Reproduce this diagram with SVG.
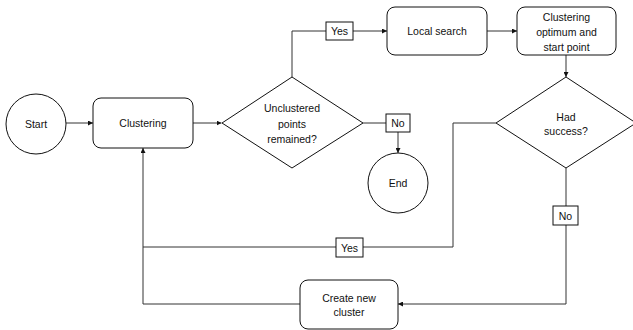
<svg xmlns="http://www.w3.org/2000/svg" width="633" height="330" viewBox="0 0 633 330">
  <style>
    .shape { fill: #fff; stroke: #111; stroke-width: 1; }
    .lbl { fill: #fff; stroke: #111; stroke-width: 1; }
    .wire { fill: none; stroke: #333; stroke-width: 1; }
    text { font-family: "Liberation Sans", Arial, sans-serif; font-size: 10.5px; fill: #111; text-anchor: middle; dominant-baseline: central; }
  </style>
  <defs>
    <marker id="arrow" viewBox="0 0 6 6" refX="6" refY="3" markerWidth="5" markerHeight="5" markerUnits="userSpaceOnUse" orient="auto">
      <path d="M0,0 L6,3 L0,6 Z" fill="#111"/>
    </marker>
  </defs>

  <!-- connectors -->
  <g id="connectors">
    <path class="wire" d="M66,123 H93" marker-end="url(#arrow)"/>
    <path class="wire" d="M193,123 H221.5" marker-end="url(#arrow)"/>
    <path class="wire" d="M292,77 V31 H326"/>
    <path class="wire" d="M353,31 H387" marker-end="url(#arrow)"/>
    <path class="wire" d="M487,31 H517" marker-end="url(#arrow)"/>
    <path class="wire" d="M566,55 V77" marker-end="url(#arrow)"/>
    <path class="wire" d="M363,123 H386"/>
    <path class="wire" d="M398,132 V153" marker-end="url(#arrow)"/>
    <path class="wire" d="M496,123 H453 V247 H363"/>
    <path class="wire" d="M336,247 H143"/>
    <path class="wire" d="M300,304 H143 V148" marker-end="url(#arrow)"/>
    <path class="wire" d="M566,168 V206"/>
    <path class="wire" d="M566,225 V304 H398" marker-end="url(#arrow)"/>
  </g>

  <!-- nodes -->
  <g id="start">
    <circle class="shape" cx="36" cy="124" r="30"/>
    <text x="36" y="124">Start</text>
  </g>
  <g id="clustering">
    <rect class="shape" x="93" y="98" width="100" height="50" rx="8"/>
    <text x="143" y="123">Clustering</text>
  </g>
  <g id="unclustered">
    <polygon class="shape" points="292,77 363,123 292,168 222,123"/>
    <text x="292" y="108">Unclustered</text>
    <text x="292" y="124">points</text>
    <text x="292" y="139">remained?</text>
  </g>
  <g id="yes-top">
    <rect class="lbl" x="326" y="22" width="27" height="18"/>
    <text x="339.5" y="31">Yes</text>
  </g>
  <g id="local-search">
    <rect class="shape" x="387" y="7" width="100" height="48" rx="8"/>
    <text x="437" y="31">Local search</text>
  </g>
  <g id="cluster-optimum">
    <rect class="shape" x="517" y="7" width="99" height="48" rx="8"/>
    <text x="566.5" y="17">Clustering</text>
    <text x="566.5" y="32">optimum and</text>
    <text x="566.5" y="47">start point</text>
  </g>
  <g id="no-end">
    <rect class="lbl" x="386" y="114" width="24" height="18"/>
    <text x="398" y="123">No</text>
  </g>
  <g id="end">
    <circle class="shape" cx="398" cy="183" r="30"/>
    <text x="398" y="183">End</text>
  </g>
  <g id="had-success">
    <polygon class="shape" points="566,77 636,123 566,168 496,123"/>
    <text x="566" y="117">Had</text>
    <text x="566" y="131">success?</text>
  </g>
  <g id="yes-back">
    <rect class="lbl" x="336" y="238" width="27" height="19"/>
    <text x="349.5" y="247.5">Yes</text>
  </g>
  <g id="no-new">
    <rect class="lbl" x="553" y="206" width="25" height="19"/>
    <text x="565.5" y="215.5">No</text>
  </g>
  <g id="create-cluster">
    <rect class="shape" x="300" y="280" width="98" height="49" rx="8"/>
    <text x="349" y="298">Create new</text>
    <text x="349" y="312">cluster</text>
  </g>
</svg>
